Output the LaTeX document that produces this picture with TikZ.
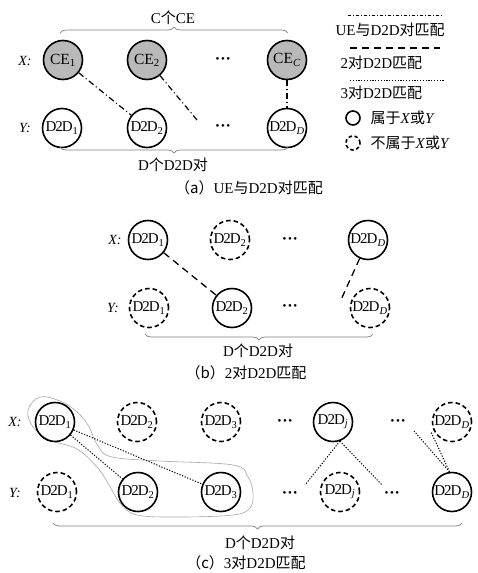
\documentclass[tikz,border=0pt]{standalone}
\usepackage{fontspec}
\setmainfont{Liberation Serif}
\newfontfamily\cjk{Noto Sans CJK SC}
\usetikzlibrary{decorations.pathreplacing}
\newcommand\zh[1]{{\cjk #1}}
\newcommand\ddn[1]{D\kern-1pt2\kern-1ptD\textsubscript{#1}}
\newcommand\threedots{{\fontsize{11}{12}\selectfont\textbullet\kern1.5pt\textbullet\kern1.5pt\textbullet}}
\begin{document}
\begin{tikzpicture}[x=1pt,y=-1pt,
  every node/.style={font=\fontsize{15}{17}\selectfont},
  sc/.style={circle,draw,line width=1.6pt,minimum size=39pt,inner sep=0pt},
  dc/.style={sc,dash pattern=on 4.5pt off 3pt},
  cec/.style={sc,fill=gray!55,font=\fontsize{15.5}{17}\selectfont},
  lsc/.style={circle,draw,line width=1.6pt,minimum size=14pt,inner sep=0pt},
  ldc/.style={lsc,dash pattern=on 3.5pt off 2.5pt},
  br/.style={decorate,decoration={brace,amplitude=6pt},draw=gray,line width=0.7pt},
  dashdot/.style={line width=1.2pt,dash pattern=on 6pt off 3pt on 1pt off 3pt},
  dsh/.style={line width=1.3pt,dash pattern=on 7pt off 5pt},
  dtt/.style={line width=1pt,dash pattern=on 1.2pt off 1.6pt},
  txt/.style={font=\fontsize{15}{17}\selectfont},
  captxt/.style={font=\fontsize{15}{17}\selectfont},
  rowlab/.style={font=\fontsize{14}{16}\selectfont\itshape},
]
\useasboundingbox (0,0) rectangle (477,573);

% ---------- (a) ----------
\node[txt] (aC) at (173,18) {C\zh{个}CE};
\draw[br] (60,33) -- (288,33);
\node[rowlab] (aX) at (25,61) {X:};
\node[cec] (ce1) at (63,60) {CE\textsubscript{1}};
\node[cec] (ce2) at (147,60) {CE\textsubscript{2}};
\node (adx) at (223,60) {\threedots};
\node[cec] (ceC) at (287,60) {CE\textsubscript{\itshape C}};
\node[rowlab] (aY) at (25,128) {Y:};
\node[sc] (ad1) at (62,128) {\ddn{1}};
\node[sc] (ad2) at (147,128) {\ddn{2}};
\node (ady) at (223,127) {\threedots};
\node[sc] (adD) at (287,128) {\ddn{\itshape D}};
\coordinate (aend) at (197,120);
\draw[dashdot] (ce1) -- (ad2);
\draw[dashdot] (ce2) -- (aend);
\draw[dashdot] (ceC) -- (adD);
\draw[br] (288,147) -- (60,147);
\node[txt] (aD) at (173,165) {D\zh{个}D2D\zh{对}};
\node[captxt] (acap) at (249,188) {\zh{（a）}UE\zh{与}D2D\zh{对匹配}};

% ---------- legend ----------
\coordinate (l1a) at (348,15); \coordinate (l1b) at (442,15);
\draw[dashdot,line width=0.8pt,dash pattern=on 3pt off 2pt on 1pt off 2pt] (l1a) -- (l1b);
\node[txt,anchor=west] (lt1) at (332,30) {UE\zh{与}D2D\zh{对匹配}};
\coordinate (l2a) at (350,48); \coordinate (l2b) at (440,48);
\draw[dsh] (l2a) -- (l2b);
\node[txt,anchor=west] (lt2) at (337,63) {2\zh{对}D2D\zh{匹配}};
\coordinate (l3a) at (350,80); \coordinate (l3b) at (445,80);
\draw[dtt] (l3a) -- (l3b);
\node[txt,anchor=west] (lt3) at (337,93) {3\zh{对}D2D\zh{匹配}};
\node[lsc] (lc1) at (353,118) {};
\node[txt,anchor=west] (lt4) at (367,118) {\zh{属于}\textit{X}\zh{或}\textit{Y}};
\node[ldc] (lc2) at (353,143) {};
\node[txt,anchor=west] (lt5) at (367,143) {\zh{不属于}\textit{X}\zh{或}\textit{Y}};

% ---------- (b) ----------
\node[rowlab] (bX) at (115,240) {X:};
\node[sc] (bx1) at (148,240) {\ddn{1}};
\node[dc] (bx2) at (230,240) {\ddn{2}};
\node (bdx) at (290,240) {\threedots};
\node[sc] (bxD) at (368,240) {\ddn{\itshape D}};
\node[rowlab] (bY) at (113,308) {Y:};
\node[dc] (by1) at (149,308) {\ddn{1}};
\node[sc] (by2) at (232,308) {\ddn{2}};
\node (bdy) at (290,307) {\threedots};
\node[dc] (byD) at (370,308) {\ddn{\itshape D}};
\coordinate (bend) at (340,302);
\draw[dsh] (bx1) -- (by2);
\draw[dsh] (bxD) -- (bend);
\draw[br] (373,334) -- (145,334);
\node[txt] (bD) at (258,351) {D\zh{个}D2D\zh{对}};
\node[captxt] (bcap) at (246,373) {\zh{（b）}2\zh{对}D2D\zh{匹配}};

% ---------- (c) ----------
\draw[gray!70,line width=0.6pt] plot[smooth cycle,tension=0.6] coordinates {
  (40,397) (60,401) (76,411) (88,425) (98,446) (112,457) (160,461) (233,465)
  (248,477) (253,493) (250,508) (233,515) (180,517) (137,515) (120,503)
  (108,483) (97,467) (77,449) (50,440) (33,427) (28,410)};
\node[rowlab] (cX) at (15,422) {X:};
\node[sc] (cx1) at (55,422) {\ddn{1}};
\node[dc] (cx2) at (137,422) {\ddn{2}};
\node[dc] (cx3) at (221,422) {\ddn{3}};
\node (cdx1) at (285,422) {\threedots};
\node[sc] (cxj) at (333,422) {\ddn{\itshape j}};
\node (cdx2) at (398,422) {\threedots};
\node[dc] (cxD) at (452,422) {\ddn{\itshape D}};
\node[rowlab] (cY) at (15,493) {Y:};
\node[dc] (cy1) at (57,492) {\ddn{1}};
\node[sc] (cy2) at (138,492) {\ddn{2}};
\node[sc] (cy3) at (221,492) {\ddn{3}};
\node (cdy1) at (290,494) {\threedots};
\node[dc] (cyj) at (340,492) {\ddn{\itshape j}};
\node (cdy2) at (392,494) {\threedots};
\node[sc] (cyD) at (452,492) {\ddn{\itshape D}};
\coordinate (cj1) at (305,485);
\coordinate (cj2) at (382,485);
\coordinate (cD1) at (414,431);
\coordinate (cD2) at (431,432);
\draw[dtt] (cx1) -- (cy2);
\draw[dtt] (cx1) -- (cy3);
\draw[dtt] (cxj.-70) -- (cj1);
\draw[dtt] (cxj.-70) -- (cj2);
\draw[dtt] (cyD.97) -- (cD1);
\draw[dtt] (cyD.97) -- (cD2);
\draw[br] (462,523) -- (53,523);
\node[txt] (cD) at (260,543) {D\zh{个}D2D\zh{对}};
\node[captxt] (ccap) at (246,563) {\zh{（c）}3\zh{对}D2D\zh{匹配}};
\end{tikzpicture}
\end{document}
